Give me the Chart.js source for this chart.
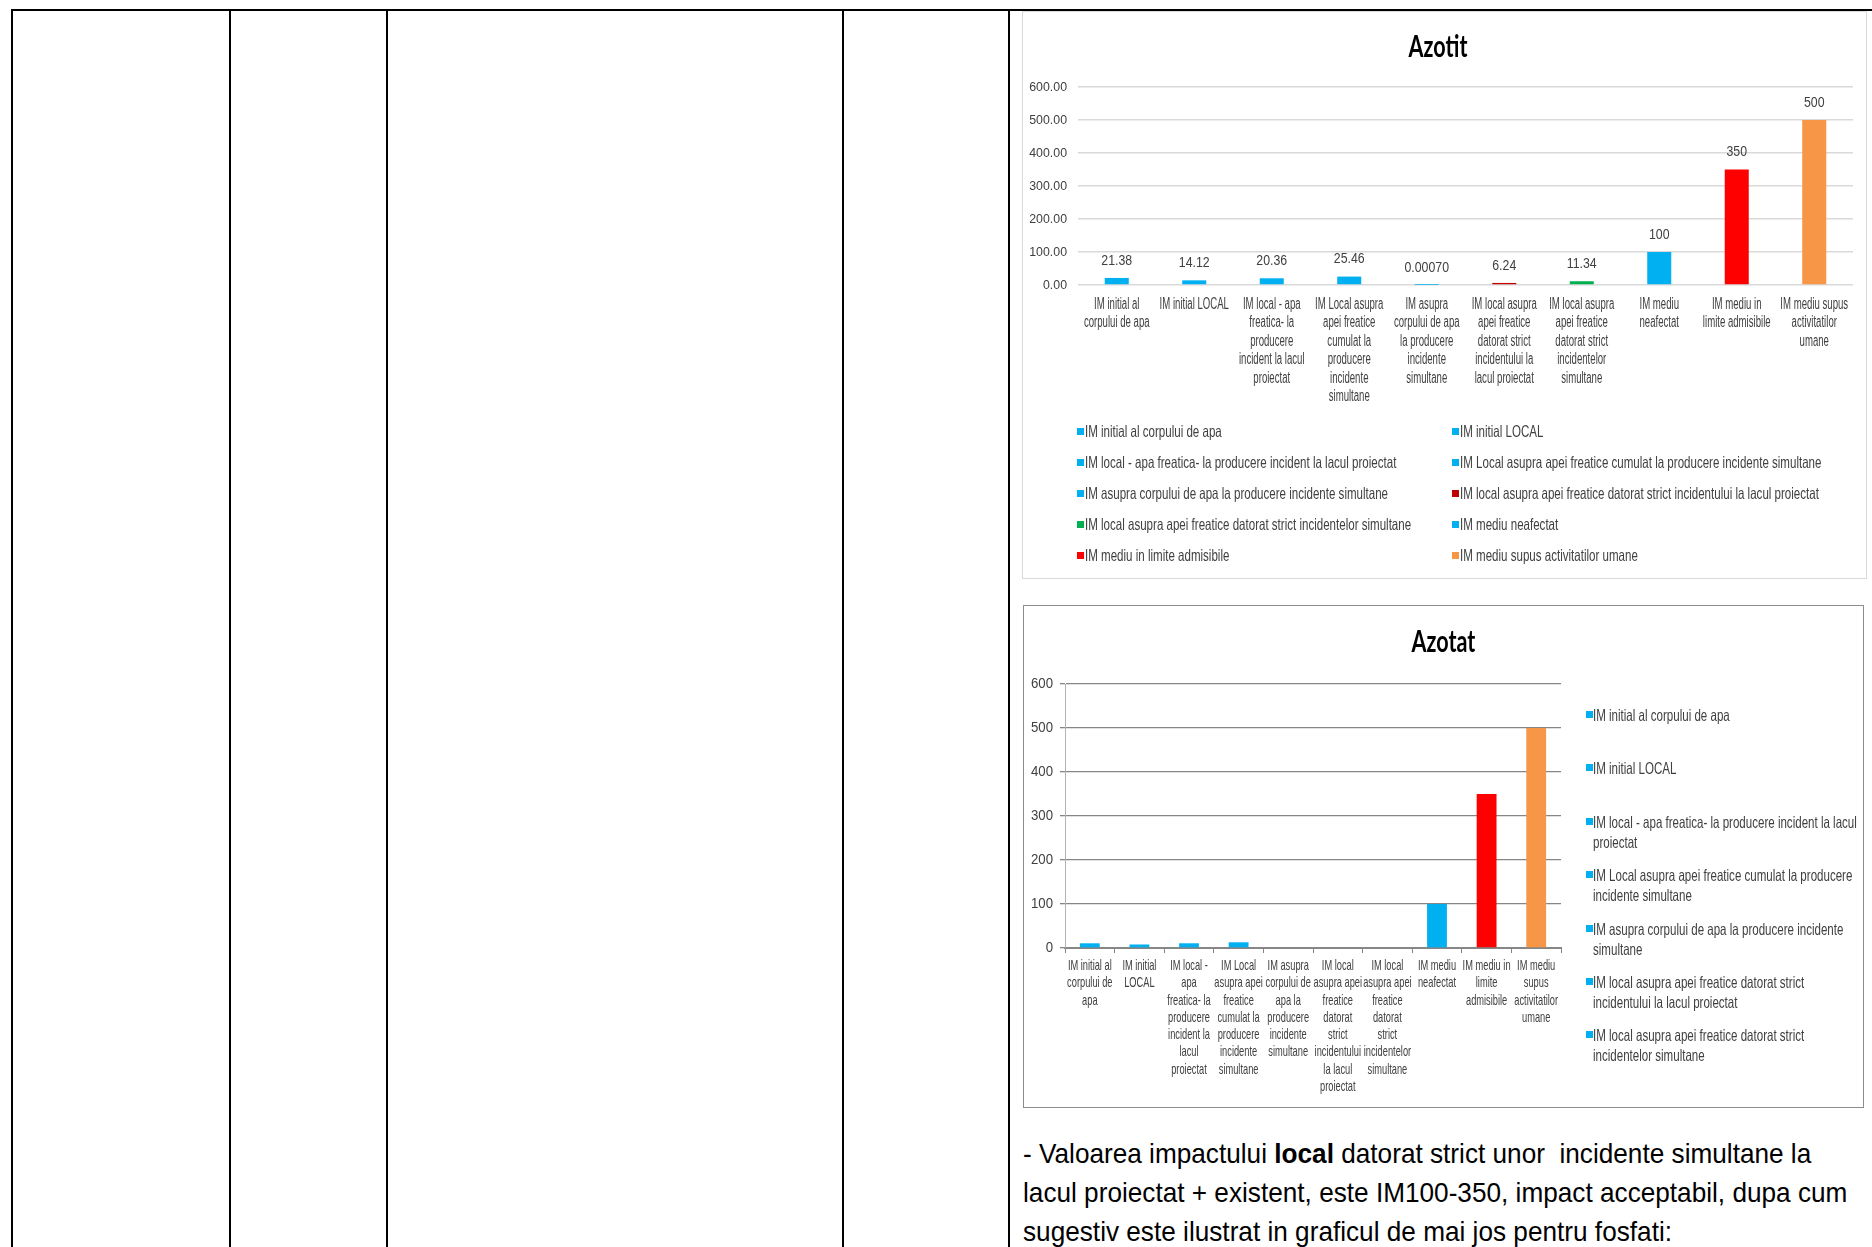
<!DOCTYPE html>
<html lang="ro">
<head>
<meta charset="UTF-8">
<title>Azotit / Azotat</title>
<script src="https://cdn.jsdelivr.net/npm/chart.js@4.4.1/dist/chart.umd.min.js"></script>
<style>
    body {
        margin: 0;
        width: 1872px;
        height: 1247px;
        overflow: hidden;
        background: #fff;
        position: relative;
        font-family: "Liberation Sans", Arial, sans-serif;
    }
    .linie { position: absolute; background: #000; }
    .cutie { position: absolute; background: #fff; }
    .cutie canvas { display: block; }
    .legenda { position: absolute; color: #404040; font-size: 16.5px; }
    .ingust { display: inline-block; transform: scaleX(0.70); transform-origin: left center; white-space: nowrap; }
    .leg-rand { display: flex; align-items: center; white-space: nowrap; }
    .patrat { width: 7px; height: 7px; margin-right: 1px; flex: none; }
    .leg-azotat .item { height: 53.4px; line-height: 20px; position: relative; padding-left: 7px; white-space: nowrap; }
    .leg-azotat .patrat { position: absolute; left: 0; top: 6px; }
    .leg-azotat .ingust { transform-origin: left top; }
    .text {
        position: absolute;
        left: 1023px;
        top: 1134px;
        font-size: 28px;
        line-height: 39px;
        color: #000;
        white-space: nowrap;
        transform: scaleX(0.935);
        transform-origin: left top;
    }
</style>
</head>
<body>
    <!-- liniile tabelului -->
    <div class="linie" style="left:11px; top:9px; width:1861px; height:2px;"></div>
    <div class="linie" style="left:11px; top:9px; width:2px; height:1238px;"></div>
    <div class="linie" style="left:229px; top:9px; width:2px; height:1238px;"></div>
    <div class="linie" style="left:386px; top:9px; width:2px; height:1238px;"></div>
    <div class="linie" style="left:842px; top:9px; width:2px; height:1238px;"></div>
    <div class="linie" style="left:1008px; top:9px; width:2px; height:1238px;"></div>

    <div class="cutie" style="left:1022px; top:11px; border:1px solid #d9d9d9;">
        <canvas id="grafAzotit" width="843" height="566"></canvas>
    </div>
    <div class="legenda" id="legAzotit" style="left:1077px; top:416px;"></div>

    <div class="cutie" style="left:1023px; top:605px; border:1px solid #8c8c8c;">
        <canvas id="grafAzotat" width="839" height="501"></canvas>
    </div>
    <div class="legenda leg-azotat" id="legAzotat" style="left:1586px; top:705px;"></div>

    <div class="text">
        - Valoarea impactului <b>local</b> datorat strict unor &nbsp;incidente simultane la<br>
        lacul proiectat + existent, este IM100-350, impact acceptabil, dupa cum<br>
        sugestiv este ilustrat in graficul de mai jos pentru fosfati:
    </div>

<script>
const FONT = '"Liberation Sans", Arial, sans-serif';

// categoriile (aceleasi la ambele grafice)
const categorii = [
    'IM initial al corpului de apa',
    'IM initial LOCAL',
    'IM local - apa freatica- la producere incident la lacul proiectat',
    'IM Local asupra apei freatice  cumulat la producere incidente simultane',
    'IM asupra corpului de apa la producere incidente simultane',
    'IM local asupra apei freatice datorat strict incidentului la lacul proiectat',
    'IM local asupra apei freatice datorat strict incidentelor simultane',
    'IM mediu neafectat',
    'IM mediu in limite admisibile',
    'IM mediu supus activitatilor umane'
];

// Azotit
const valoriAzotit = [21.38, 14.12, 20.36, 25.46, 0.0007, 6.24, 11.34, 100, 350, 500];
const eticheteAzotit = ['21.38', '14.12', '20.36', '25.46', '0.00070', '6.24', '11.34', '100', '350', '500'];
const culoriAzotit = ['#00B0F0', '#00B0F0', '#00B0F0', '#00B0F0', '#00B0F0', '#C00000', '#00B050', '#00B0F0', '#FF0000', '#F79646'];
const tickAzotit = [
    ['IM initial al', 'corpului de apa'],
    ['IM initial LOCAL'],
    ['IM local - apa', 'freatica- la', 'producere', 'incident la lacul', 'proiectat'],
    ['IM Local asupra', 'apei freatice', 'cumulat la', 'producere', 'incidente', 'simultane'],
    ['IM asupra', 'corpului de apa', 'la producere', 'incidente', 'simultane'],
    ['IM local asupra', 'apei freatice', 'datorat strict', 'incidentului la', 'lacul proiectat'],
    ['IM local asupra', 'apei freatice', 'datorat strict', 'incidentelor', 'simultane'],
    ['IM mediu', 'neafectat'],
    ['IM mediu in', 'limite admisibile'],
    ['IM mediu supus', 'activitatilor', 'umane']
];

// Azotat
const valoriAzotat = [10.7, 8, 10.7, 13, 0, 0, 0, 100, 350, 500];
const culoriAzotat = ['#00B0F0', '#00B0F0', '#00B0F0', '#00B0F0', '#00B0F0', '#00B0F0', '#00B0F0', '#00B0F0', '#FF0000', '#F79646'];
const tickAzotat = [
    ['IM initial al', 'corpului de', 'apa'],
    ['IM initial', 'LOCAL'],
    ['IM local -', 'apa', 'freatica- la', 'producere', 'incident la', 'lacul', 'proiectat'],
    ['IM Local', 'asupra apei', 'freatice', 'cumulat la', 'producere', 'incidente', 'simultane'],
    ['IM asupra', 'corpului de', 'apa la', 'producere', 'incidente', 'simultane'],
    ['IM local', 'asupra apei', 'freatice', 'datorat', 'strict', 'incidentului', 'la lacul', 'proiectat'],
    ['IM local', 'asupra apei', 'freatice', 'datorat', 'strict', 'incidentelor', 'simultane'],
    ['IM mediu', 'neafectat'],
    ['IM mediu in', 'limite', 'admisibile'],
    ['IM mediu', 'supus', 'activitatilor', 'umane']
];
// legenda din dreapta arata doar primele 7 elemente (taiata ca in Excel)
const legendaAzotat = [
    ['IM initial al corpului de apa'],
    ['IM initial LOCAL'],
    ['IM local - apa freatica- la producere incident la lacul', 'proiectat'],
    ['IM Local asupra apei freatice  cumulat la producere', 'incidente simultane'],
    ['IM asupra corpului de apa la producere incidente', 'simultane'],
    ['IM local asupra apei freatice datorat strict', 'incidentului la lacul proiectat'],
    ['IM local asupra apei freatice datorat strict', 'incidentelor simultane']
];

// textul din Excel e foarte ingust: cat se strange pe orizontala, dupa marimea fontului
const INGUST = { 30: 0.72, 13: 0.95, 16: 0.6, 14: 0.88, 15: 0.88, 14.5: 0.64 };

function ingusteaza(canvas) {
    const ctx = canvas.getContext('2d');
    const fill = ctx.fillText;
    const measure = ctx.measureText;
    const factor = c => {
        const m = /([\d.]+)px/.exec(c.font);
        return m ? (INGUST[parseFloat(m[1])] || 1) : 1;
    };
    ctx.fillText = function (text, x, y, maxWidth) {
        const k = factor(this);
        this.save();
        this.translate(x, y);
        this.scale(k, 1);
        if (maxWidth === undefined) fill.call(this, text, 0, 0);
        else fill.call(this, text, 0, 0, maxWidth / k);
        this.restore();
    };
    // ca Chart.js sa stie latimea reala a textului strans
    ctx.measureText = function (text) {
        const m = measure.call(this, text);
        return { width: m.width * factor(this) };
    };
    return canvas;
}

Chart.defaults.font.family = FONT;
Chart.defaults.color = '#404040';

// etichetele de valoare deasupra barelor
const pluginEtichete = {
    id: 'etichete',
    afterDatasetsDraw(chart, args, opts) {
        if (!opts.texte) return;
        const ctx = chart.ctx;
        const meta = chart.getDatasetMeta(0);
        ctx.save();
        ctx.font = '14px ' + FONT;
        ctx.fillStyle = '#404040';
        ctx.textAlign = 'center';
        ctx.textBaseline = 'middle';
        meta.data.forEach((bar, i) => {
            ctx.fillText(opts.texte[i], bar.x, bar.y - 17);
        });
        ctx.restore();
    }
};

new Chart(ingusteaza(document.getElementById('grafAzotit')), {
    type: 'bar',
    data: {
        labels: tickAzotit,
        datasets: [{
            data: valoriAzotit,
            backgroundColor: culoriAzotit,
            barPercentage: 0.31,
            categoryPercentage: 1
        }]
    },
    options: {
        responsive: false,
        animation: false,
        layout: { padding: { left: 0, right: 13, top: 0, bottom: 163 } },
        plugins: {
            legend: { display: false },
            tooltip: { enabled: false },
            title: {
                display: true,
                text: 'Azotit',
                color: '#000',
                font: { family: 'Lato', size: 30, weight: 'bold', lineHeight: 1.2 },
                padding: { top: 17, bottom: 22 }
            },
            etichete: { texte: eticheteAzotit }
        },
        scales: {
            x: {
                grid: { display: false },
                border: { display: false },
                ticks: {
                    autoSkip: false,
                    maxRotation: 0,
                    padding: 2,
                    font: { size: 16, lineHeight: 1.16 }
                },
                afterFit: s => { s.height = 130; s.paddingLeft = 0; s.paddingRight = 0; }
            },
            y: {
                min: 0,
                max: 600,
                ticks: {
                    stepSize: 100,
                    padding: 11,
                    font: { size: 13 },
                    callback: v => v.toFixed(2)
                },
                grid: { color: '#d9d9d9', lineWidth: 1.5, drawTicks: false },
                border: { display: false },
                afterFit: s => { s.width = 55; }
            }
        }
    },
    plugins: [pluginEtichete]
});

new Chart(ingusteaza(document.getElementById('grafAzotat')), {
    type: 'bar',
    data: {
        labels: tickAzotat,
        datasets: [{
            data: valoriAzotat,
            backgroundColor: culoriAzotat,
            barPercentage: 0.4,
            categoryPercentage: 1
        }]
    },
    options: {
        responsive: false,
        animation: false,
        layout: { padding: 0 },
        plugins: {
            legend: { display: false },
            tooltip: { enabled: false },
            title: {
                display: true,
                text: 'Azotat',
                color: '#000',
                font: { family: 'Lato', size: 30, weight: 'bold', lineHeight: 1.2 },
                padding: { top: 18, bottom: 24 }
            }
        },
        scales: {
            x: {
                grid: { display: true, drawOnChartArea: false, tickLength: 5, color: '#868686', offset: true },
                border: { display: true, color: '#868686', width: 2 },
                ticks: {
                    autoSkip: false,
                    maxRotation: 0,
                    padding: 4.4,
                    font: { size: 14.5, lineHeight: 1.19 }
                },
                afterFit: s => { s.height = 159; s.paddingLeft = 0; s.paddingRight = 0; }
            },
            y: {
                min: 0,
                max: 600,
                ticks: { stepSize: 100, padding: 7, font: { size: 15 } },
                grid: { color: '#868686', lineWidth: 1.3, tickLength: 5 },
                border: { display: true, color: '#b3b3b3' },
                afterFit: s => { s.width = 41; }
            },
            // axa goala in dreapta: face loc pentru legenda
            spatiu: {
                type: 'linear',
                position: 'right',
                grid: { display: false },
                border: { display: false },
                ticks: { display: false },
                afterFit: s => { s.width = 302; }
            }
        }
    }
});

// legenda Azotit, 2 coloane
const legAzotit = document.getElementById('legAzotit');
legAzotit.style.display = 'grid';
legAzotit.style.gridTemplateColumns = '375px 375px';
legAzotit.style.gridAutoRows = '31px';
categorii.forEach((nume, i) => {
    const rand = document.createElement('div');
    rand.className = 'leg-rand';
    rand.innerHTML = '<span class="patrat" style="background:' + culoriAzotit[i] + '"></span><span class="ingust">' + nume + '</span>';
    legAzotit.appendChild(rand);
});

// legenda Azotat, pe verticala
const legAzotat = document.getElementById('legAzotat');
legendaAzotat.forEach((linii, i) => {
    const item = document.createElement('div');
    item.className = 'item';
    item.innerHTML = '<span class="patrat" style="background:' + culoriAzotat[i] + '"></span><span class="ingust">' + linii.join('<br>') + '</span>';
    legAzotat.appendChild(item);
});
</script>
</body>
</html>
